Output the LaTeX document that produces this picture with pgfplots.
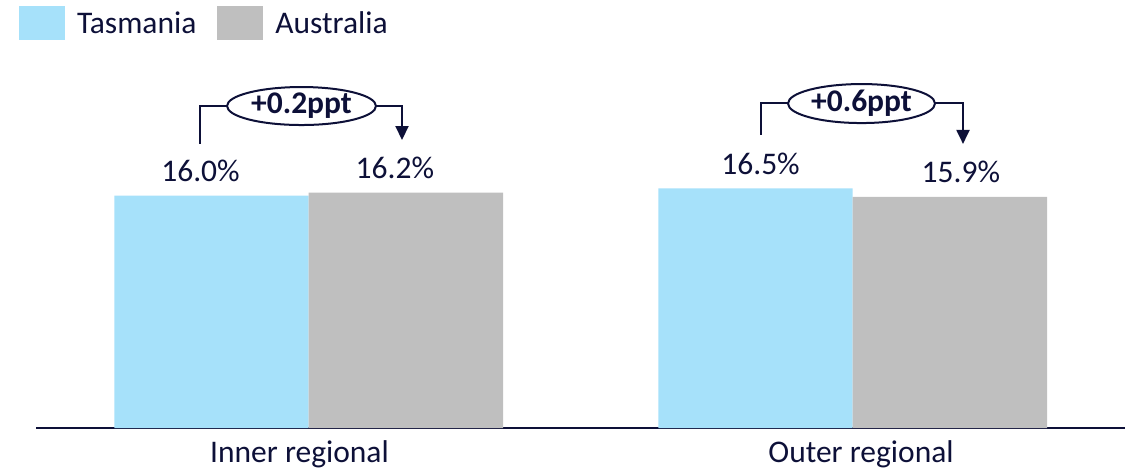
\documentclass[border=0pt]{standalone}
\usepackage{pgfplots}
\pgfplotsset{compat=1.18}
\usepackage{pgfplotstable}
\usepackage{fontspec}
\setmainfont{Carlito}
\usetikzlibrary{arrows.meta,shapes.geometric}
\definecolor{navy}{HTML}{0D1038}
\definecolor{tasblue}{HTML}{A6E1FA}
\definecolor{ausgray}{HTML}{BFBFBF}
\tikzset{bubble/.style={draw=navy, line width=2pt, ellipse, inner sep=0pt, text=navy,
    font=\fontsize{31.5}{36}\selectfont\bfseries}}

\pgfplotstableread{
x y dx
308.7 16.0 -11
852.7 16.5 5
}\tas
\pgfplotstableread{
x y dx
308.7 16.2 -11
852.7 15.9 11
}\aus

\begin{document}
\begin{tikzpicture}
\path[use as bounding box] (0,0) rectangle (1132pt,475pt);
\begin{axis}[
  at={(36pt,47pt)}, anchor=south west,
  scale only axis,
  width=1089pt, height=363.25pt,
  xmin=36, xmax=1125, ymin=0, ymax=25,
  clip=false,
  axis x line*=bottom, axis y line=none,
  x axis line style={draw=navy, line width=2pt},
  ybar=0pt, bar width=194.3,
  xtick={299.5,861},
  xticklabels={Inner regional, Outer regional},
  major tick length=0pt,
  xtick style={draw=none},
  xticklabel style={anchor=base, yshift=-34pt, text=navy, font=\fontsize{31.5}{36}\selectfont},
  /pgf/number format/assume math mode=true,
  legend columns=2,
  legend style={at={(axis description cs:-0.0156,1.1617)}, anchor=north west, draw=none, fill=none,
    inner sep=0pt, outer sep=0pt, font=\fontsize{31.5}{36}\selectfont, text=navy,
    /tikz/every even column/.append style={column sep=9pt},
    nodes={inner xsep=12pt, inner ysep=0pt}},
  legend image code/.code={\fill[#1] (0pt,-17pt) rectangle (46pt,17pt);},
  mylabels/.style={
    visualization depends on={\thisrow{dx} \as \dx},
    nodes near coords={\pgfmathprintnumber[fixed,fixed zerofill,precision=1]{\pgfplotspointmeta}\%},
    every node near coord/.append style={anchor=base, yshift=14pt, xshift=\dx, text=navy, font=\fontsize{31.5}{36}\selectfont},
  },
]
\addlegendimage{fill=tasblue, draw=none}
\addlegendentry{Tasmania}
\addlegendimage{fill=ausgray, draw=none}
\addlegendentry{Australia}
\addplot[fill=tasblue, draw=none, forget plot, bar shift=-97.15pt, mylabels] table[x=x,y=y] {\tas};
\addplot[fill=ausgray, draw=none, forget plot, bar shift=97.15pt, mylabels] table[x=x,y=y] {\aus};

% annotation 1
\draw[navy, line width=2pt] (axis cs:200,19.55) |- (axis cs:227,22.16);
\node[bubble, minimum width=149pt, minimum height=38pt] at (axis cs:301.5,22.16) {+0.2ppt};
\draw[navy, line width=2pt, -{Triangle[width=13pt,length=14pt]}] (axis cs:376,22.16) -| (axis cs:402,19.82);

% annotation 2
\draw[navy, line width=2pt] (axis cs:761,20.17) |- (axis cs:788,22.37);
\node[bubble, minimum width=147pt, minimum height=39pt] at (axis cs:861.5,22.33) {+0.6ppt};
\draw[navy, line width=2pt, -{Triangle[width=13pt,length=14pt]}] (axis cs:935,22.37) -| (axis cs:963,19.55);
\end{axis}
\end{tikzpicture}
\end{document}
